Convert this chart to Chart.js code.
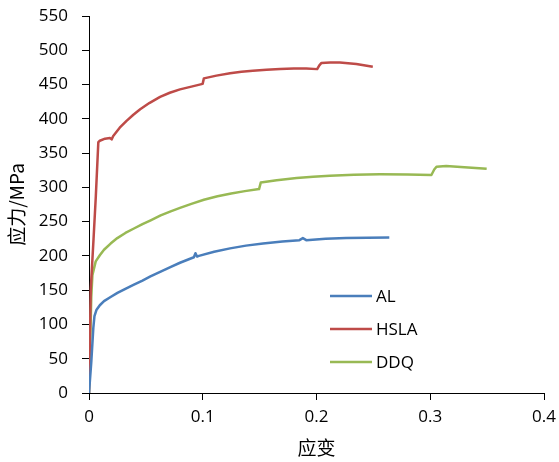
<!DOCTYPE html>
<html>
<head>
<meta charset="utf-8">
<script src="https://cdn.jsdelivr.net/npm/chart.js@4.4.1/dist/chart.umd.min.js"></script>
<style>
  html, body { margin: 0; padding: 0; background: #fff; }
  #wrap { width: 559px; height: 462px; }
</style>
</head>
<body>
<div id="wrap"><canvas id="grafico"></canvas></div>
<script>
// valores (deformacao / tensao em MPa)
var alStrain   = [0, 0.002, 0.0038, 0.0048, 0.0065, 0.0095, 0.0132, 0.019, 0.025, 0.032, 0.0395, 0.047, 0.054, 0.063, 0.072, 0.08, 0.0922, 0.0936, 0.095, 0.0966, 0.11, 0.124, 0.138, 0.153, 0.17, 0.185, 0.188, 0.191, 0.208, 0.226, 0.245, 0.264];
var alStress   = [0, 45, 95, 112, 121, 128, 134, 140, 146, 152, 158, 164, 170, 177, 184, 190, 198, 204, 199, 200, 206, 211, 215, 218, 221, 223, 226, 223, 225, 226, 226.5, 227];

var hslaStrain = [0, 0.0015, 0.004, 0.006, 0.0082, 0.0095, 0.0141, 0.0184, 0.0199, 0.0213, 0.027, 0.033, 0.039, 0.045, 0.053, 0.0625, 0.071, 0.08, 0.09, 0.0999, 0.101, 0.112, 0.124, 0.134, 0.144, 0.156, 0.168, 0.18, 0.191, 0.2006, 0.2025, 0.2044, 0.212, 0.2205, 0.235, 0.2495];
var hslaStress = [0, 150, 225, 287, 366, 368, 371, 372, 370, 375, 387, 397, 406, 414, 423, 432, 438, 443, 447, 451, 459, 463, 466.5, 468.5, 470, 471.5, 472.7, 473.3, 473.5, 472.5, 478, 481.5, 482, 482, 480, 476];

var ddqStrain  = [0, 0.002, 0.003, 0.0059, 0.0095, 0.0132, 0.019, 0.0249, 0.032, 0.0395, 0.047, 0.0542, 0.063, 0.0718, 0.08, 0.09, 0.101, 0.113, 0.125, 0.137, 0.1495, 0.151, 0.165, 0.1825, 0.197, 0.2117, 0.233, 0.2557, 0.28, 0.301, 0.3035, 0.3055, 0.314, 0.33, 0.3496];
var ddqStress  = [0, 140, 172, 192, 201, 209, 218, 226, 233.5, 240, 246.5, 252, 259, 265, 270, 276, 282, 287, 291, 294.5, 297.5, 307, 310.5, 313.5, 315.5, 317, 318.5, 319, 318.8, 318, 326, 330, 331, 329.5, 327];

var seriesNames  = ['AL', 'HSLA', 'DDQ'];
var seriesColors = ['#4A7EBB', '#BE4B48', '#98B954'];

function pontos(xs, ys) {
    return xs.map(function (x, i) { return { x: x, y: ys[i] }; });
}

var fonteTicks = { family: '"Open Sans", "Liberation Sans", sans-serif', size: 17 };
var fonteTitulo = { family: '"Noto Sans CJK SC", sans-serif', size: 19 };

// legenda desenhada dentro da area do grafico
var legendaInterna = {
    id: 'legendaInterna',
    afterDraw: function (chart) {
        var ctx = chart.ctx;
        var area = chart.chartArea;
        var x0 = area.left + 241;
        var y0 = area.top + 280;
        ctx.save();
        ctx.font = '17px "Open Sans", "Liberation Sans", sans-serif';
        ctx.textBaseline = 'middle';
        chart.data.datasets.forEach(function (ds, i) {
            var y = y0 + i * 33;
            ctx.strokeStyle = ds.borderColor;
            ctx.lineWidth = 2.5;
            ctx.beginPath();
            ctx.moveTo(x0, y);
            ctx.lineTo(x0 + 42, y);
            ctx.stroke();
            ctx.fillStyle = '#000';
            ctx.fillText(ds.label, x0 + 46, y + 1);
        });
        ctx.restore();
    }
};

var config = {
    type: 'line',
    data: {
        datasets: [
            { label: seriesNames[0], data: pontos(alStrain, alStress),     borderColor: seriesColors[0] },
            { label: seriesNames[1], data: pontos(hslaStrain, hslaStress), borderColor: seriesColors[1] },
            { label: seriesNames[2], data: pontos(ddqStrain, ddqStress),   borderColor: seriesColors[2] }
        ]
    },
    options: {
        responsive: true,
        maintainAspectRatio: false,
        animation: false,
        layout: { padding: { left: 0, right: 15, top: 16, bottom: 0 } },
        elements: {
            point: { radius: 0 },
            line: { borderWidth: 2.5, tension: 0, borderJoinStyle: 'round', fill: false }
        },
        plugins: {
            legend: { display: false },
            tooltip: { enabled: false }
        },
        scales: {
            x: {
                type: 'linear',
                min: 0,
                max: 0.4,
                ticks: { stepSize: 0.1, color: '#000', font: fonteTicks, padding: 7 },
                grid: { drawOnChartArea: false, drawTicks: true, tickLength: 7, color: '#000' },
                border: { display: true, color: '#000', width: 1 },
                title: { display: true, text: '应变', color: '#000', font: fonteTitulo, padding: { top: 0, bottom: 3 } },
                afterFit: function (scale) {
                    scale.height = 462 - 393;
                    scale.paddingRight = 0;
                }
            },
            y: {
                min: 0,
                max: 550,
                ticks: { stepSize: 50, color: '#000', font: fonteTicks, padding: 14 },
                grid: { drawOnChartArea: false, drawTicks: true, tickLength: 7, color: '#000' },
                border: { display: true, color: '#000', width: 1 },
                title: { display: true, text: '应力/MPa', color: '#000', font: fonteTitulo, padding: { top: 5, bottom: 0 } },
                afterFit: function (scale) {
                    scale.width = 89;
                    scale.paddingTop = 0;
                }
            }
        }
    },
    plugins: [legendaInterna]
};

var grafico = new Chart(document.getElementById('grafico'), config);
</script>
</body>
</html>
